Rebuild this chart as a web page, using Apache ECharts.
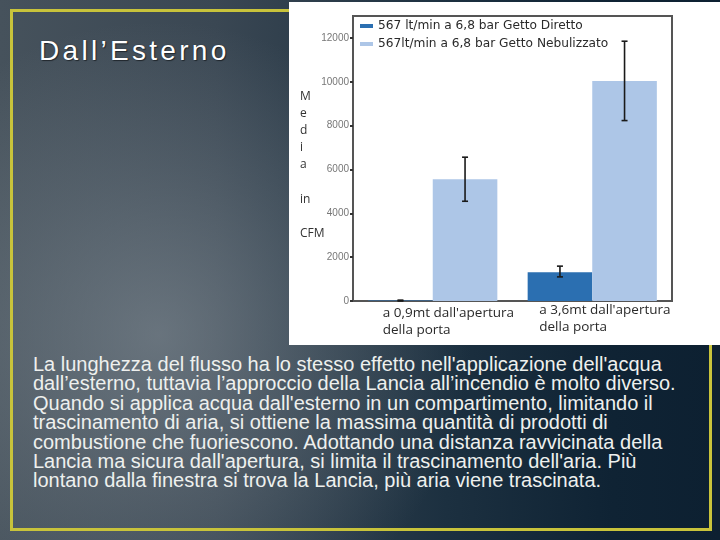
<!DOCTYPE html>
<html>
<head>
<meta charset="utf-8">
<script src="https://cdn.jsdelivr.net/npm/echarts@6/dist/echarts.min.js"></script>
<style>
  html, body { margin: 0; padding: 0; }
  body {
    width: 720px; height: 540px; overflow: hidden; position: relative;
    background:
      radial-gradient(circle at 22% 62%, rgba(140,150,158,0.55) 0%, rgba(140,150,158,0.25) 25%, rgba(140,150,158,0) 48%),
      linear-gradient(to right, #46525c 0%, #3a4753 30%, #1c3040 62%, #0f2334 85%, #0d2031 100%);
  }
  #frame {
    position: absolute; left: 10px; top: 9px; width: 696px; height: 516px;
    border: 3px solid #c8c33b;
  }
  #title {
    position: absolute; left: 39px; top: 35px;
    font-family: "Liberation Sans", Arial, sans-serif; font-size: 28px; line-height: 32px;
    letter-spacing: 3.3px; color: #ffffff;
    text-shadow: 0 0 1px #1b2530, 1px 1px 1px rgba(0,0,0,0.5);
  }
  #para {
    position: absolute; left: 33px; top: 355px;
    font-family: "Liberation Sans", Arial, sans-serif; font-size: 20px; line-height: 19.4px;
    color: #eef0ee; white-space: pre;
  }
  #chart {
    position: absolute; left: 289px; top: 2px; width: 431px; height: 343px; background: #ffffff;
  }
</style>
</head>
<body>
<div id="frame"></div>
<div id="title"></div>
<div id="para"></div>
<div id="chart"></div>
<script>
// ---- data ----
const categories = ["a 0,9mt dall'apertura\ndella porta", "a 3,6mt dall'apertura\ndella porta"];
const seriesNames = ["567 lt/min a 6,8 bar Getto Diretto", "567lt/min a 6,8 bar Getto Nebulizzato"];
const direttoValues = [20, 1310];
const direttoLow = [0, 1100];
const direttoHigh = [40, 1590];
const nebulizzatoValues = [5550, 10040];
const nebulizzatoLow = [4550, 8230];
const nebulizzatoHigh = [6560, 11850];
const yAxisTitle = "M\ne\nd\ni\na\n\nin\n\nCFM";
const titleText = "Dall’Esterno";
const paragraphLines = [
  "La lunghezza del flusso ha lo stesso effetto nell'applicazione dell'acqua",
  "dall’esterno, tuttavia l’approccio della Lancia all’incendio è molto diverso.",
  "Quando si applica acqua dall'esterno in un compartimento, limitando il",
  "trascinamento di aria, si ottiene la massima quantità di prodotti di",
  "combustione che fuoriescono. Adottando una distanza ravvicinata della",
  "Lancia ma sicura dall'apertura, si limita il trascinamento dell'aria. Più",
  "lontano dalla finestra si trova la Lancia, più aria viene trascinata."
];

document.getElementById('title').textContent = titleText;
document.getElementById('para').textContent = paragraphLines.join('\n');

const DARK = '#2b6fb1';
const LIGHT = '#adc6e7';
const FONT = '"Open Sans", "Liberation Sans", sans-serif';
const LEGEND_FONT = '"DejaVu Sans", "Open Sans", sans-serif';

function errorRenderer(offsetFrac) {
  return function (params, api) {
    const xi = api.value(0);
    const lo = api.value(1);
    const hi = api.value(2);
    const band = api.size([1, 0])[0];
    const pTop = api.coord([xi, hi]);
    const pBot = api.coord([xi, lo]);
    const x = pTop[0] + offsetFrac * band;
    const cap = 3;
    const style = { stroke: '#1a1a1a', lineWidth: 1.6 };
    return {
      type: 'group',
      children: [
        { type: 'line', shape: { x1: x, y1: pTop[1], x2: x, y2: pBot[1] }, style: style },
        { type: 'line', shape: { x1: x - cap, y1: pTop[1], x2: x + cap, y2: pTop[1] }, style: style },
        { type: 'line', shape: { x1: x - cap, y1: pBot[1], x2: x + cap, y2: pBot[1] }, style: style }
      ]
    };
  };
}

const chart = echarts.init(document.getElementById('chart'), null, { renderer: 'canvas' });
const BAR_FRAC = 0.405;
chart.setOption({
  animation: false,
  backgroundColor: '#ffffff',
  grid: { left: 64, top: 14, right: 48, bottom: 44, show: true, borderColor: '#555555', borderWidth: 2 },
  legend: {
    orient: 'vertical', left: 66, top: 11, itemGap: 2,
    itemWidth: 13, itemHeight: 4, icon: 'rect',
    textStyle: { fontFamily: LEGEND_FONT, fontSize: 12.2, color: '#2a2a2a', lineHeight: 16 },
    data: seriesNames
  },
  xAxis: {
    type: 'category', data: categories,
    axisLine: { lineStyle: { color: '#555555', width: 2 } },
    axisTick: { alignWithLabel: true, length: 3, lineStyle: { color: '#333', width: 2 } },
    axisLabel: { show: false }
  },
  yAxis: {
    type: 'value', min: 0, max: 13000, interval: 2000,
    splitLine: { show: false },
    axisLine: { show: true, lineStyle: { color: '#555555', width: 2 } },
    axisTick: { show: true, length: 3, lineStyle: { color: '#333', width: 2 } },
    axisLabel: { showMaxLabel: false, formatter: v => String(v),
      fontFamily: '"Liberation Sans", sans-serif', fontSize: 10, color: '#777777', margin: 4 }
  },
  series: [
    { name: seriesNames[0], type: 'bar', data: direttoValues, itemStyle: { color: DARK },
      barGap: '0%', barCategoryGap: '19%' },
    { name: seriesNames[1], type: 'bar', data: nebulizzatoValues, itemStyle: { color: LIGHT },
      barGap: '0%', barCategoryGap: '19%' },
    { type: 'custom', z: 5, renderItem: errorRenderer(-BAR_FRAC / 2),
      data: categories.map((c, i) => [i, direttoLow[i], direttoHigh[i]]) },
    { type: 'custom', z: 5, renderItem: errorRenderer(BAR_FRAC / 2),
      data: categories.map((c, i) => [i, nebulizzatoLow[i], nebulizzatoHigh[i]]) }
  ]
});

// x-axis category labels and y-axis title, placed through the axis scale
const labelOffsets = [-50, -53];
const labelTops = [303, 300];
const gfx = categories.map((c, i) => {
  const cx = chart.convertToPixel({ xAxisIndex: 0 }, i);
  return {
    type: 'text', left: cx + labelOffsets[i], top: labelTops[i],
    style: { text: c, fontFamily: FONT, fontSize: 13.5, lineHeight: 16.5, fill: '#2a2a2a' }
  };
});
gfx.push({
  type: 'text', left: 11, top: 86,
  style: { text: yAxisTitle, fontFamily: FONT, fontSize: 12, lineHeight: 17.1, fill: '#333333' }
});
chart.setOption({ graphic: gfx });
</script>
</body>
</html>
